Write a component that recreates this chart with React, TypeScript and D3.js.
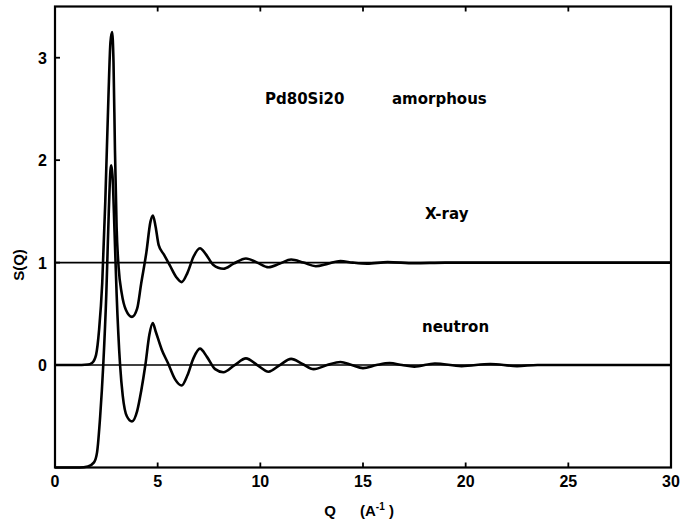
import React from "react";
import * as d3 from "d3";

// X-ray S(Q) (plotted directly)
const xrayQ = [0, 1.0, 1.6, 1.8, 2.0, 2.15, 2.3, 2.45, 2.6, 2.7, 2.78, 2.85, 2.92, 3.0, 3.1, 3.25, 3.45, 3.75, 4.0, 4.2, 4.45, 4.65, 4.77, 4.9, 5.05, 5.3, 5.6, 5.9, 6.17, 6.45, 6.75, 7.06, 7.35, 7.7, 8.2, 8.7, 9.3, 9.85, 10.4, 10.95, 11.5, 12.1, 12.7, 13.3, 13.9, 14.5, 15.2, 16.2, 17.5, 19, 30];
const xrayS = [0, 0, 0.005, 0.02, 0.1, 0.35, 0.8, 1.6, 2.6, 3.15, 3.25, 2.95, 2.1, 1.35, 0.95, 0.7, 0.54, 0.47, 0.55, 0.8, 1.1, 1.4, 1.46, 1.35, 1.17, 1.08, 0.97, 0.86, 0.81, 0.9, 1.06, 1.14, 1.08, 0.98, 0.94, 0.99, 1.04, 1.0, 0.955, 0.99, 1.03, 1.0, 0.965, 0.99, 1.015, 1.0, 0.99, 1.005, 0.995, 1.0, 1.0];

// Neutron S(Q) shifted down by 1
const neutronQ = [0, 1.2, 1.6, 1.9, 2.05, 2.2, 2.35, 2.5, 2.62, 2.7, 2.74, 2.8, 2.9, 3.0, 3.17, 3.3, 3.5, 3.75, 4.0, 4.2, 4.4, 4.6, 4.76, 4.9, 5.2, 5.5, 5.85, 6.17, 6.45, 6.75, 7.06, 7.4, 7.8, 8.2, 8.75, 9.3, 9.85, 10.4, 10.95, 11.5, 12.05, 12.6, 13.25, 13.9, 14.45, 15.0, 15.65, 16.3, 16.9, 17.5, 18.5, 19.8, 21.2, 22.5, 23.5, 30];
const neutronS = [-1, -1, -0.99, -0.95, -0.85, -0.5, 0.0, 0.7, 1.5, 1.9, 1.95, 1.85, 1.3, 0.7, 0.0, -0.3, -0.5, -0.55, -0.45, -0.25, 0.0, 0.3, 0.41, 0.33, 0.15, 0.02, -0.14, -0.2, -0.1, 0.07, 0.16, 0.08, -0.04, -0.07, 0.0, 0.065, 0.0, -0.065, 0.0, 0.06, 0.01, -0.04, 0.0, 0.03, 0.0, -0.03, 0.0, 0.02, 0.0, -0.015, 0.015, -0.01, 0.01, -0.01, 0.0, 0.0];

const xTicks = [0, 5, 10, 15, 20, 25, 30];
const yTicks = [0, 1, 2, 3];
const refLines = [0, 1];

const W = 682;
const H = 522;
const left = 55, right = 671, top = 6.5, bottom = 467.5;

export default function App() {
  const x = d3.scaleLinear().domain([0, 30]).range([left, right]);
  const y = d3.scaleLinear().domain([-1, 3.5]).range([bottom, top]);
  const line = d3
    .line<[number, number]>()
    .x((d) => x(d[0]))
    .y((d) => y(d[1]))
    .curve(d3.curveMonotoneX);
  const xray = line(xrayQ.map((q, i) => [q, xrayS[i]]) as [number, number][]) || "";
  const neutron = line(neutronQ.map((q, i) => [q, neutronS[i]]) as [number, number][]) || "";
  const tickFont = "'Liberation Sans', Arial, sans-serif";
  const annFont = "'DejaVu Sans', sans-serif";

  return (
    <div style={{ position: "absolute", left: 0, top: 0, width: W, height: H, background: "#fff" }}>
      <svg width={W} height={H} style={{ display: "block" }}>
        <rect x={0} y={0} width={W} height={H} fill="#fff" />
        {refLines.map((v) => (
          <line key={"r" + v} x1={left} x2={right} y1={y(v)} y2={y(v)} stroke="#000" strokeWidth={1.6} />
        ))}
        <path d={xray} fill="none" stroke="#000" strokeWidth={2.6} strokeLinejoin="round" />
        <path d={neutron} fill="none" stroke="#000" strokeWidth={2.6} strokeLinejoin="round" />
        <rect x={left} y={top} width={right - left} height={bottom - top} fill="none" stroke="#000" strokeWidth={2.2} />
        {xTicks.slice(1, -1).map((t) => (
          <g key={"xt" + t}>
            <line x1={x(t)} x2={x(t)} y1={bottom} y2={bottom - 5} stroke="#000" strokeWidth={1.8} />
            <line x1={x(t)} x2={x(t)} y1={top} y2={top + 5} stroke="#000" strokeWidth={1.8} />
          </g>
        ))}
        {yTicks.map((t) => (
          <line key={"yt" + t} x1={left} x2={left + 5} y1={y(t)} y2={y(t)} stroke="#000" strokeWidth={1.8} />
        ))}
        {xTicks.map((t) => (
          <text key={"xl" + t} x={x(t)} y={487} textAnchor="middle" fontFamily={tickFont} fontWeight="bold" fontSize={16}>
            {t}
          </text>
        ))}
        {yTicks.map((t) => (
          <text key={"yl" + t} x={47} y={y(t) + 6} textAnchor="end" fontFamily={tickFont} fontWeight="bold" fontSize={16}>
            {t}
          </text>
        ))}
        <text x={330} y={516} textAnchor="middle" fontFamily={tickFont} fontWeight="bold" fontSize={15}>
          Q
        </text>
        <text x={360} y={516} fontFamily={tickFont} fontWeight="bold" fontSize={15}>
          (A
          <tspan fontSize={10} dy={-6}>-1</tspan>
          <tspan dy={6}> )</tspan>
        </text>
        <text transform="translate(24,265) rotate(-90)" textAnchor="middle" fontFamily={tickFont} fontWeight="bold" fontSize={15}>
          S(Q)
        </text>
        <text x={265} y={104} fontFamily={annFont} fontWeight="bold" fontSize={15}>Pd80Si20</text>
        <text x={392} y={104} fontFamily={annFont} fontWeight="bold" fontSize={15}>amorphous</text>
        <text x={425} y={219} fontFamily={annFont} fontWeight="bold" fontSize={15}>X-ray</text>
        <text x={422} y={332} fontFamily={annFont} fontWeight="bold" fontSize={15}>neutron</text>
      </svg>
    </div>
  );
}
